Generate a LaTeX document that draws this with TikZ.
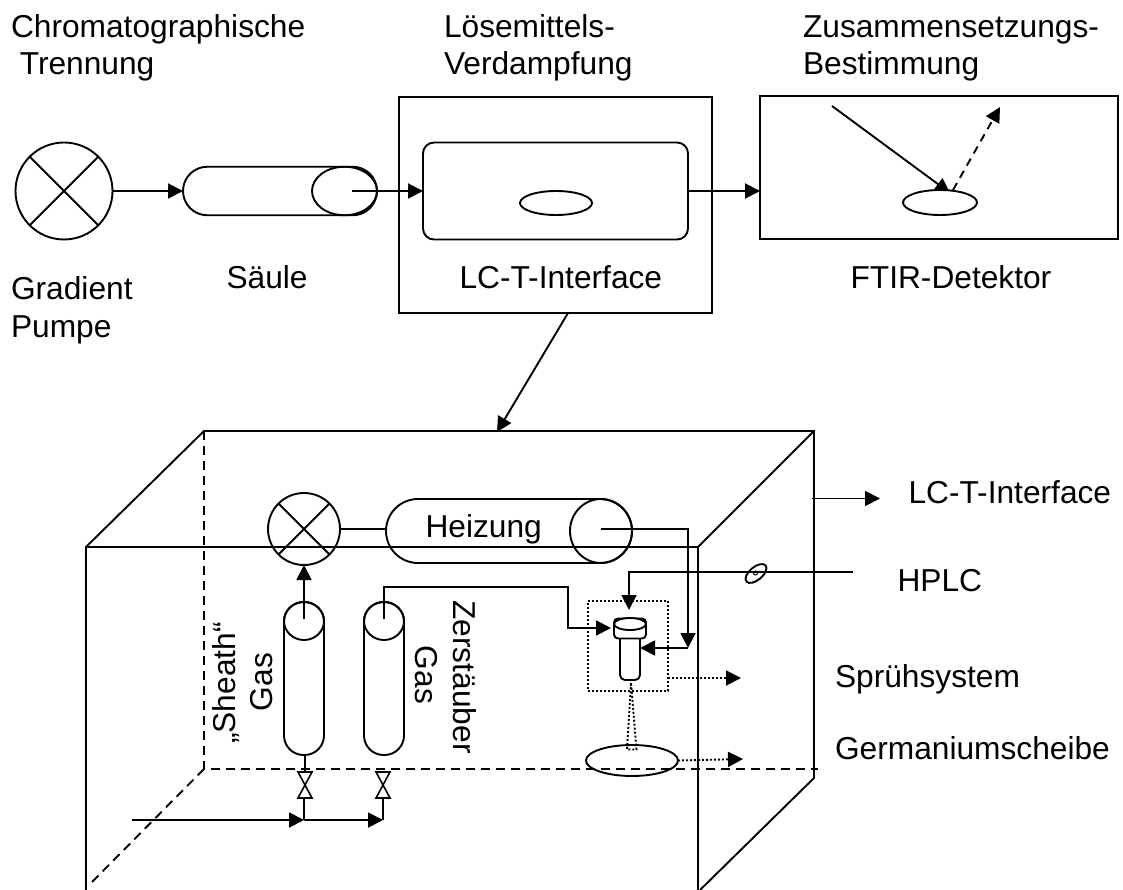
\documentclass[tikz,border=0pt]{standalone}
\usepackage{fontspec}
\setmainfont{Liberation Sans}
\usetikzlibrary{arrows.meta,shapes.geometric,shapes.misc}
\tikzset{
  every node/.style={inner sep=0pt,outer sep=0pt},
  lab/.style={font=\fontsize{31.7}{33}\selectfont},
  llab/.style={lab,anchor=base west},
  rlab/.style={lab,anchor=base},
  tip/.style={-{Triangle[length=15pt,width=15pt]}},
  ell/.style={draw,ellipse},
  pill/.style={draw,rounded rectangle},
  box/.style={draw,rectangle},
  dashline/.style={dash pattern=on 9pt off 6pt},
  dotline/.style={dash pattern=on 2pt off 2pt},
}
\begin{document}
\begin{tikzpicture}[x=1pt,y=-1pt,line width=1.9pt]
\useasboundingbox (0,0) rectangle (1123,890);
% upper row
\node[ell,minimum width=97pt,minimum height=97pt] (pump) at (64,191) {};
\draw (pump.north west) -- (pump.south east);
\draw (pump.north east) -- (pump.south west);
\node[pill,minimum width=194pt,minimum height=48.5pt] (col) at (280,191) {};
\node[ell,minimum width=65pt,minimum height=48.5pt] (colend) at (344.5,191) {};
\coordinate (colin) at (352,191);
\node[box,minimum width=313pt,minimum height=216pt] (lc) at (555.5,205) {};
\node[draw,rectangle,rounded corners=11pt,minimum width=265pt,minimum height=97pt] (chamber) at (555.5,191) {};
\node[ell,minimum width=72pt,minimum height=24pt] (drop) at (556,203) {};
\node[box,minimum width=358pt,minimum height=143pt] (ftir) at (939,167.5) {};
\coordinate (beamA) at (832,106);
\coordinate (beamM) at (950,193);
\coordinate (beamS) at (953,190);
\coordinate (beamB) at (1000,107);
\draw[tip] (pump.east) -- (col.west);
\draw[tip] (colin) -- (chamber.west);
\draw[tip] (chamber.east) -- (ftir.west |- chamber.east);
\draw[tip] (beamA) -- (beamM);
\draw[tip,dash pattern=on 8pt off 6pt] (beamS) -- (beamB);
\node[ell,fill=white,minimum width=74pt,minimum height=25pt] (plate) at (940,202.5) {};
% cube
\coordinate (bTL) at (204,431);
\coordinate (bTR) at (814,431);
\coordinate (bBL) at (204,769);
\coordinate (bBR) at (814,778);
\coordinate (bBRd) at (818,769);
\coordinate (fTL) at (86,547);
\coordinate (fTR) at (698,547);
\coordinate (fBL) at (86,890);
\coordinate (fBR) at (698,890);
\coordinate (dEnd) at (92,882);
\coordinate (rEnd) at (700,890);
\draw[tip] (lc.south) ++(12.5,0) coordinate (lcOut) (lcOut) -- (497,432) coordinate (cubeIn);
\draw (fTL) -- (bTL) -- (bTR) -- (bBR) -- (rEnd);
\draw (bTR) -- (fTR);
\draw (fBL) -- (fTL) -- (fTR) -- (fBR);
\draw[dashline] (bTL) -- (bBL) -- (bBRd);
\draw[dashline] (bBL) -- (dEnd);
% pump + heater
\node[ell,minimum width=72pt,minimum height=72pt] (pumpB) at (304,529) {};
\draw (pumpB.north west) -- (pumpB.south east);
\draw (pumpB.north east) -- (pumpB.south west);
\node[pill,minimum width=246pt,minimum height=64pt] (heat) at (509,531) {};
\node[ell,minimum width=62pt,minimum height=64pt] (heatend) at (601,531) {};
\coordinate (heatout) at (601,529);
\draw (pumpB.east) -- (386,529);
% cylinders
\node[draw,rectangle,rounded corners=19.5pt,minimum width=40pt,minimum height=153pt] (cylA) at (304,678.5) {};
\node[ell,minimum width=40pt,minimum height=38pt] (cylAt) at (304,621) {};
\node[draw,rectangle,rounded corners=19.5pt,minimum width=40pt,minimum height=153pt] (cylB) at (384,678.5) {};
\node[ell,minimum width=40pt,minimum height=38pt] (cylBt) at (384,621) {};
\coordinate (cylAo) at (304,619);
\coordinate (cylBo) at (384,619);
\draw[tip] (cylAo) -- (pumpB.south);
% valves
\coordinate (vA1) at (305,772); \coordinate (vA2) at (304,798);
\coordinate (vB1) at (383,772); \coordinate (vB2) at (383,798);
\draw (vA1) -- (cylA.south -| vA1);
\draw[line width=1.6pt] (298,772) -- (312,772) -- (298,798) -- (312,798) -- cycle;
\draw[line width=1.6pt] (376,772) -- (390,772) -- (376,798) -- (390,798) -- cycle;
\coordinate (jA) at (304,820); \coordinate (jB) at (383,820); \coordinate (gasIn) at (132,820);
\draw[tip] (gasIn) -- (jA);
\draw[tip] (jA) -- (jB);
\draw (vA2) -- (jA);
\draw (vB2) -- (jB);
% nozzle
\node[box,dotline,minimum width=80pt,minimum height=90pt] (spray) at (628,646) {};
\node[draw,rectangle,rounded corners=5pt,minimum width=20pt,minimum height=48pt] (noz) at (630,656) {};
\node[draw,fill=white,rectangle,rounded corners=4pt,minimum width=32pt,minimum height=20pt] (cap) at (630,628.5) {};
\node[ell,fill=white,minimum width=32pt,minimum height=12pt] (capt) at (630,624) {};
\coordinate (nIn) at (611,628);
\coordinate (nR) at (640,648);
\draw[tip] (cylBo) -- (384,587) -- (568,587) -- (568,628) -- (nIn);
\draw[tip] (heatout) -- (688,529) -- (688,648);
\draw[tip] (688,648) -- (nR);
\coordinate (hplc) at (853,572);
\draw[tip] (hplc) -- (629,572) -- (629,610);
\node[ell,rotate=40,minimum width=25pt,minimum height=13pt] (sep) at (756,573.5) {};
\node[ell,minimum width=4pt,minimum height=4pt,line width=1pt] (sepc) at (755.5,573) {};
% wafer
\node[ell,minimum width=92pt,minimum height=31pt] (wafer) at (632,760.5) {};
\coordinate (sp0) at (631,683);
\draw[dotline] (sp0) -- (627,749.5) -- (636.5,749.5) -- cycle;
\coordinate (sprayO) at (741,678);
\coordinate (waferO) at (743,759);
\draw[tip,dotline] (spray.east |- sprayO) -- (sprayO);
\draw[tip,dotline] (wafer.east) -- (waferO);
\coordinate (ifS) at (812,498.5); \coordinate (ifE) at (880,498.5);
\draw[tip] (ifS) -- (ifE);
% labels
\node[llab] (t1) at (11,38) {Chromatographische};
\node[llab] (t1b) at (11,75) {\ Trennung};
\node[llab] (t2) at (444,38) {Lösemittels-};
\node[llab] (t2b) at (444,75) {Verdampfung};
\node[llab] (t3) at (803,38) {Zusammensetzungs-};
\node[llab] (t3b) at (803,75) {Bestimmung};
\node[llab] (t4) at (11,300) {Gradient};
\node[llab] (t4b) at (11,337) {Pumpe};
\node[llab] (t5) at (226.5,288) {Säule};
\node[llab] (t6) at (459.5,288) {LC-T-Interface};
\node[llab] (t7) at (850.5,288) {FTIR-Detektor};
\node[llab] (t8) at (425.5,537) {Heizung};
\node[llab] (t9) at (908.5,503) {LC-T-Interface};
\node[llab] (t10) at (897.5,591) {HPLC};
\node[llab] (t11) at (835,687) {Sprühsystem};
\node[llab] (t12) at (835,759) {Germaniumscheibe};
\node[rlab,rotate=90] (t13) at (235,683) {„Sheath“};
\node[rlab,rotate=90] (t14) at (272,682) {Gas};
\node[rlab,rotate=-90] (t15) at (415,675) {Gas};
\node[rlab,rotate=-90] (t16) at (453,677) {Zerstäuber};
\end{tikzpicture}
\end{document}
